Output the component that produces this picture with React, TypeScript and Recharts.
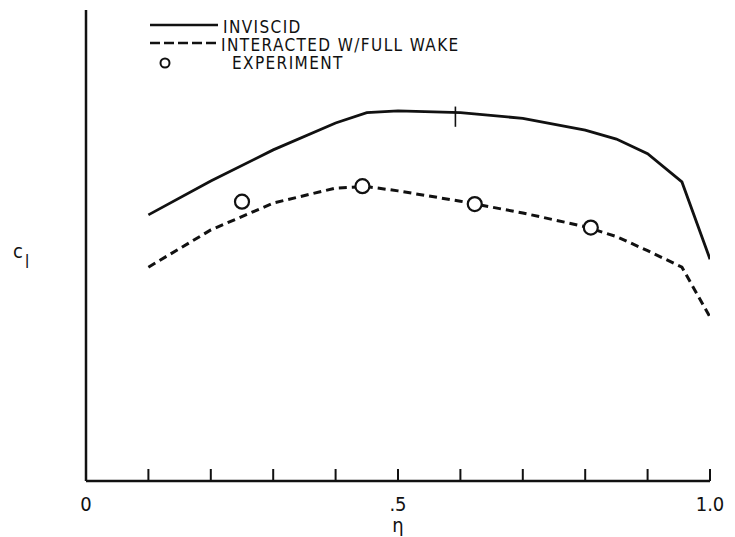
import React from 'react'
import { ComposedChart, Line, Scatter, XAxis, YAxis, Legend } from 'recharts'

// spanwise station eta and section lift coefficient (arbitrary units, no scale printed)
const etaGrid = [0.1, 0.2, 0.3, 0.4, 0.45, 0.5, 0.6, 0.7, 0.8, 0.85, 0.9, 0.955, 1.0]
const inviscidCl = [0.565, 0.637, 0.703, 0.76, 0.782, 0.786, 0.782, 0.77, 0.745, 0.726, 0.695, 0.635, 0.471]
const interactedCl = [0.454, 0.533, 0.59, 0.622, 0.625, 0.616, 0.594, 0.569, 0.54, 0.519, 0.489, 0.454, 0.348]

const experimentEta = [0.25, 0.443, 0.623, 0.809]
const experimentCl = [0.593, 0.626, 0.588, 0.538]

// short vertical mark drawn across the inviscid curve
const markEta = [0.592, 0.592]
const markCl = [0.795, 0.752]

const xTicks = [0, 0.1, 0.2, 0.3, 0.4, 0.5, 0.6, 0.7, 0.8, 0.9, 1.0]
const xTickLabels: Record<string, string> = { '0': '0', '0.5': '.5', '1': '1.0' }

const legendItems = ['INVISCID', 'INTERACTED W/FULL WAKE', 'EXPERIMENT']

const FONT = "'DejaVu Sans Condensed', 'DejaVu Sans', sans-serif"
const INK = '#111'
const TICK_GAP = 16

const inviscid = etaGrid.map((eta, i) => ({ eta, cl: inviscidCl[i] }))
const interacted = etaGrid.map((eta, i) => ({ eta, cl: interactedCl[i] }))
const experiment = experimentEta.map((eta, i) => ({ eta, cl: experimentCl[i] }))
const mark = markEta.map((eta, i) => ({ eta, cl: markCl[i] }))

function LegendBox() {
  const row = { display: 'flex', alignItems: 'center', height: 18 }
  const text = {
    fontFamily: FONT,
    fontSize: 17,
    color: INK,
    lineHeight: '18px',
    letterSpacing: 1.4,
  }
  return (
    <div>
      <div style={row}>
        <svg width={70} height={18}>
          <line x1={0} y1={7} x2={68} y2={7} stroke={INK} strokeWidth={2.5} />
        </svg>
        <span style={{ ...text, marginLeft: 3 }}>{legendItems[0]}</span>
      </div>
      <div style={row}>
        <svg width={70} height={18}>
          <line x1={0} y1={7} x2={68} y2={7} stroke={INK} strokeWidth={2.5} strokeDasharray="10 4" />
        </svg>
        <span style={{ ...text, marginLeft: 1 }}>{legendItems[1]}</span>
      </div>
      <div style={row}>
        <svg width={70} height={18}>
          <circle cx={15} cy={9} r={4.5} fill="#fff" stroke={INK} strokeWidth={2} />
        </svg>
        <span style={{ ...text, marginLeft: 12 }}>{legendItems[2]}</span>
      </div>
    </div>
  )
}

function ExperimentDot(props: any) {
  const { cx, cy } = props
  return <circle cx={cx} cy={cy} r={7} fill="#fff" stroke={INK} strokeWidth={2.2} />
}

// tick marks point up into the plot; labels sit below the axis
function EtaTick(props: any) {
  const { x, y, payload } = props
  const axisY = y - TICK_GAP
  const label = xTickLabels[String(payload.value)] ?? ''
  return (
    <g>
      {payload.value !== 0 && (
        <line x1={x} y1={axisY} x2={x} y2={axisY - 12} stroke={INK} strokeWidth={2} />
      )}
      {label && (
        <text x={x} y={y} dy="0.72em" textAnchor="middle" fill={INK} fontFamily={FONT} fontSize={20}>
          {label}
        </text>
      )}
    </g>
  )
}

function ClLabel(props: any) {
  const { viewBox } = props
  const x = viewBox.x - 72
  const y = viewBox.y + viewBox.height / 2 + 12
  return (
    <text x={x} y={y} fill={INK} fontFamily={FONT} fontSize={20}>
      c
      <tspan dx={2} dy={10} fontSize={17}>
        l
      </tspan>
    </text>
  )
}

export default function App() {
  return (
    <div style={{ position: 'absolute', left: 0, top: 0, width: 735, height: 537, background: '#fff' }}>
      <ComposedChart width={735} height={537} margin={{ top: 10, right: 25, bottom: 6, left: 85 }}>
        <XAxis
          dataKey="eta"
          type="number"
          domain={[0, 1]}
          ticks={xTicks}
          allowDataOverflow
          height={50}
          axisLine={{ stroke: INK, strokeWidth: 2.5 }}
          tickLine={false}
          tickSize={0}
          tickMargin={TICK_GAP}
          tick={<EtaTick />}
          label={{ value: 'η', position: 'insideBottom', offset: -1, fill: INK, fontFamily: FONT, fontSize: 20 }}
        />
        <YAxis
          dataKey="cl"
          type="number"
          domain={[0, 1]}
          width={1}
          tick={false}
          tickLine={false}
          axisLine={{ stroke: INK, strokeWidth: 2.5 }}
          label={{ content: ClLabel }}
        />
        <Legend
          layout="vertical"
          align="center"
          verticalAlign="middle"
          wrapperStyle={{ top: 18, left: 150, width: 360, height: 56 }}
          content={() => <LegendBox />}
        />
        <Line
          data={inviscid}
          dataKey="cl"
          type="linear"
          stroke={INK}
          strokeWidth={2.8}
          dot={false}
          isAnimationActive={false}
        />
        <Line
          data={interacted}
          dataKey="cl"
          type="linear"
          stroke={INK}
          strokeWidth={3}
          strokeDasharray="8 5"
          dot={false}
          isAnimationActive={false}
        />
        <Line
          data={mark}
          dataKey="cl"
          type="linear"
          stroke={INK}
          strokeWidth={1.6}
          dot={false}
          isAnimationActive={false}
        />
        <Scatter data={experiment} dataKey="cl" shape={ExperimentDot} isAnimationActive={false} />
      </ComposedChart>
    </div>
  )
}
